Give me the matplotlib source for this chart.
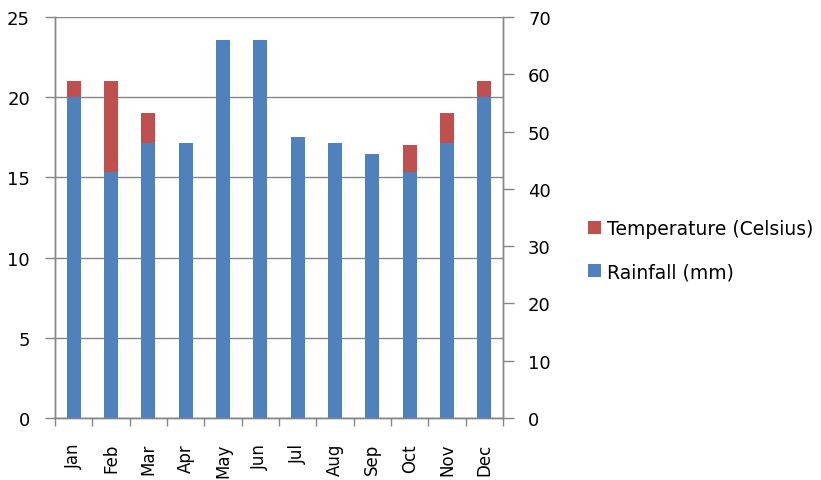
import numpy as np
import matplotlib.pyplot as plt

# Дані
months = ['Jan', 'Feb', 'Mar', 'Apr', 'May', 'Jun', 'Jul', 'Aug', 'Sep', 'Oct', 'Nov', 'Dec']
temperature = [21, 21, 19, 16, 13, 11, 10, 11, 13, 17, 19, 21]
rainfall = [56, 43, 48, 48, 66, 66, 49, 48, 46, 43, 48, 56]

temp_ticks = [0, 5, 10, 15, 20, 25]
rain_ticks = [0, 10, 20, 30, 40, 50, 60, 70]

red = '#C0504D'
blue = '#4F81BD'
gray = '#868686'

plt.rcParams['font.family'] = ['DejaVu Sans']

fig = plt.figure(figsize=(8.21, 4.81), dpi=100)
ax = fig.add_axes([55 / 821, 1 - 419 / 481, (503 - 55) / 821, (419 - 18) / 481])
ax2 = ax.twinx()

x = np.arange(len(months))
w = 0.375

# температура на лівій осі (позаду)
h_temp = ax.bar(x, temperature, width=w, color=red, zorder=2)
# опади на правій осі (попереду)
h_rain = ax2.bar(x, rainfall, width=w, color=blue, zorder=2)

ax.set_xlim(-0.5, len(months) - 0.5)
ax.set_ylim(0, 25)
ax2.set_ylim(0, 70)
ax.set_yticks(temp_ticks)
ax2.set_yticks(rain_ticks)

ax.yaxis.grid(True, color=gray, linewidth=1)
ax.set_axisbelow(True)

ax.set_xticks(x)
ax.set_xticklabels(months, rotation=90, fontsize=12)
ax.set_xticks(np.arange(-0.5, len(months)), minor=True)
ax.tick_params(axis='x', which='major', length=0, pad=18)
ax.tick_params(axis='x', which='minor', length=6, color=gray, width=1)
ax.tick_params(axis='y', length=7, color=gray, width=1, labelsize=13, pad=11)
ax2.tick_params(axis='y', length=8, color=gray, width=1, labelsize=13, pad=10)

for a in (ax, ax2):
    a.spines['top'].set_visible(False)
    for s in ('left', 'right', 'bottom'):
        a.spines[s].set_color(gray)
        a.spines[s].set_linewidth(1)

fig.legend([h_temp, h_rain], ['Temperature (Celsius)', 'Rainfall (mm)'],
           loc='center left', bbox_to_anchor=(571 / 821, 1 - 251 / 481),
           frameon=False, fontsize=13.5, handlelength=0.7, handleheight=0.7,
           handletextpad=0.3, labelspacing=1.3)

fig.savefig('out.png', dpi=100)
